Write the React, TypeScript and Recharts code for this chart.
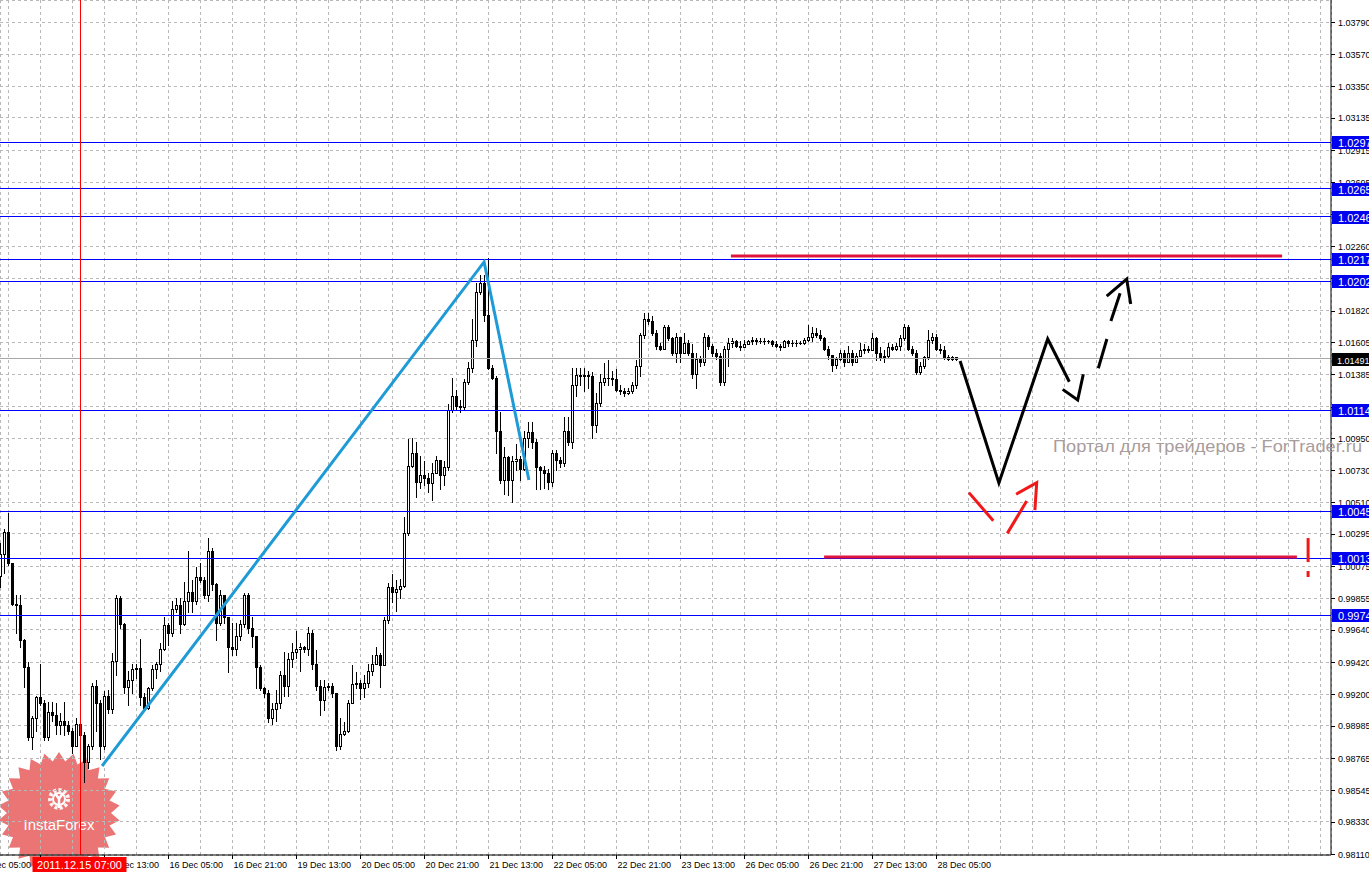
import React from "react";
import { ComposedChart, Bar, Line, XAxis, YAxis, CartesianGrid, ReferenceLine } from "recharts";

// EURUSD-style H1 candles, 14 Dec 11:00 .. 28 Dec 10:00 (open = previous close)
const firstOpen = 1.0001;
const closes = [
  1.0016, 1.0031, 1.001, 0.9982, 0.9981, 0.9957, 0.9939, 0.9891, 0.9904, 0.9918,
  0.9914, 0.9891, 0.9908, 0.9906, 0.9899, 0.9902, 0.9899, 0.9895, 0.9885, 0.99,
  0.9892, 0.9874, 0.9885, 0.9926, 0.9914, 0.9885, 0.9919, 0.991, 0.9943, 0.9986,
  0.9968, 0.9925, 0.993, 0.9937, 0.9938, 0.9918, 0.9911, 0.9924, 0.9937, 0.9941,
  0.9951, 0.9967, 0.9962, 0.9978, 0.9981, 0.9968, 0.9984, 0.999, 0.9984, 1.0,
  0.9998, 0.9988, 1.0018, 0.9995, 0.9969, 0.9988, 0.9973, 0.9952, 0.9951, 0.996,
  0.9968, 0.9988, 0.9965, 0.996, 0.9939, 0.9924, 0.9921, 0.9904, 0.991, 0.9914,
  0.9933, 0.9926, 0.9944, 0.9949, 0.9951, 0.9952, 0.9951, 0.9962, 0.9941, 0.9926,
  0.9916, 0.9925, 0.9926, 0.9921, 0.9885, 0.9893, 0.9895, 0.9914, 0.9927, 0.9928,
  0.9924, 0.9928, 0.9936, 0.9941, 0.9947, 0.994, 0.9971, 0.9993, 0.999, 0.9992,
  0.9994, 1.003, 1.0076, 1.0085, 1.0065, 1.007, 1.0068, 1.0064, 1.0071, 1.008,
  1.007, 1.0075, 1.0114, 1.0124, 1.0117, 1.0116, 1.0133, 1.0143, 1.0162, 1.0195,
  1.0201, 1.0179, 1.0143, 1.0136, 1.01, 1.0066, 1.0082, 1.0066, 1.0079, 1.0081,
  1.0074, 1.0095, 1.0099, 1.0092, 1.0075, 1.0073, 1.0071, 1.0065, 1.0085, 1.008,
  1.0078, 1.01, 1.0092, 1.0131, 1.0138, 1.0137, 1.0138, 1.0137, 1.0104, 1.0119,
  1.0133, 1.0136, 1.0136, 1.0135, 1.0128, 1.0127, 1.0126, 1.0127, 1.0131, 1.0144,
  1.0165, 1.0176, 1.0175, 1.0167, 1.0158, 1.0156, 1.0171, 1.0163, 1.0153, 1.0164,
  1.0153, 1.016, 1.0153, 1.0139, 1.0149, 1.0147, 1.0164, 1.0158, 1.0153, 1.0151,
  1.0133, 1.0156, 1.016, 1.0161, 1.0158, 1.0157, 1.0159, 1.0161, 1.0162, 1.0161,
  1.0161, 1.0161, 1.0161, 1.0159, 1.0158, 1.0157, 1.0161, 1.016, 1.016, 1.016,
  1.016, 1.0162, 1.0164, 1.0167, 1.0165, 1.0163, 1.0156, 1.0152, 1.0145, 1.0149,
  1.0153, 1.0147, 1.0153, 1.0147, 1.0151, 1.0155, 1.0156, 1.0155, 1.0163, 1.0153,
  1.015, 1.0151, 1.0157, 1.0156, 1.0158, 1.0163, 1.0171, 1.0156, 1.0153, 1.014,
  1.0144, 1.015, 1.0162, 1.0164, 1.0156, 1.0155, 1.015, 1.0149, 1.015, 1.01491,
];
const highs = [
  1.0023, 1.0033, 1.0044, 1.001, 0.9988, 0.9988, 0.9958, 0.9942, 0.9905, 0.9919,
  0.9941, 0.9916, 0.9915, 0.9915, 0.9914, 0.9907, 0.9915, 0.9902, 0.9897, 0.9904,
  0.9902, 0.9894, 0.9886, 0.9928, 0.993, 0.9916, 0.9922, 0.9923, 0.9948, 0.9988,
  0.9987, 0.9969, 0.9936, 0.9941, 0.9941, 0.9958, 0.9921, 0.9925, 0.994, 0.9942,
  0.9955, 0.9973, 0.9969, 0.9984, 0.9986, 0.9986, 0.9997, 1.0018, 0.9998, 1.0007,
  1.001, 1.0, 1.0027, 1.002, 0.9996, 0.9991, 0.9988, 0.9969, 0.9969, 0.9969,
  0.9971, 0.9989, 0.9989, 0.9973, 0.996, 0.994, 0.9925, 0.9923, 0.9914, 0.9923,
  0.9936, 0.9949, 0.9948, 0.9955, 0.9963, 0.9955, 0.9953, 0.9966, 0.9964, 0.995,
  0.993, 0.993, 0.9928, 0.9928, 0.9921, 0.9904, 0.9901, 0.9916, 0.994, 0.9935,
  0.993, 0.9933, 0.9941, 0.9947, 0.9952, 0.9948, 0.9973, 0.9996, 1.0002, 0.9998,
  0.9999, 1.0041, 1.0094, 1.0095, 1.0092, 1.0083, 1.0079, 1.0071, 1.0078, 1.0083,
  1.008, 1.0079, 1.0118, 1.0136, 1.0128, 1.0121, 1.0135, 1.0147, 1.0176, 1.0201,
  1.0206, 1.0206, 1.0218, 1.0145, 1.0137, 1.0113, 1.0089, 1.0083, 1.0083, 1.0091,
  1.0083, 1.01, 1.0106, 1.0106, 1.0094, 1.0076, 1.0076, 1.0074, 1.0087, 1.0087,
  1.0082, 1.0109, 1.0109, 1.0143, 1.0143, 1.0143, 1.0143, 1.0141, 1.014, 1.0126,
  1.0139, 1.0146, 1.0148, 1.0141, 1.0142, 1.0131, 1.0129, 1.0129, 1.0133, 1.0148,
  1.0167, 1.018, 1.018, 1.0178, 1.0169, 1.016, 1.0172, 1.0172, 1.0164, 1.0167,
  1.0162, 1.0167, 1.0162, 1.0159, 1.0153, 1.0151, 1.0167, 1.0165, 1.0159, 1.0156,
  1.0153, 1.0158, 1.0163, 1.0163, 1.0162, 1.0161, 1.0162, 1.0162, 1.0164, 1.0163,
  1.0163, 1.0163, 1.0162, 1.0162, 1.0161, 1.0159, 1.0162, 1.0162, 1.0162, 1.0162,
  1.0161, 1.0163, 1.0172, 1.0171, 1.017, 1.0169, 1.0164, 1.0158, 1.0152, 1.015,
  1.0155, 1.0155, 1.0158, 1.0155, 1.0153, 1.016, 1.0159, 1.0158, 1.0167, 1.0164,
  1.0157, 1.0155, 1.016, 1.0159, 1.016, 1.0165, 1.0173, 1.0172, 1.0158, 1.0155,
  1.0147, 1.0151, 1.0169, 1.0167, 1.0166, 1.0159, 1.0158, 1.0152, 1.0151, 1.015,
];
const lows = [
  0.9993, 1.0003, 1.0008, 0.9981, 0.9962, 0.9952, 0.9925, 0.9889, 0.9883, 0.9895,
  0.9913, 0.9889, 0.9889, 0.9902, 0.9893, 0.9893, 0.9892, 0.9893, 0.988, 0.9885,
  0.9891, 0.986, 0.987, 0.9883, 0.9895, 0.9876, 0.9883, 0.9907, 0.9907, 0.9933,
  0.9965, 0.9921, 0.9913, 0.9921, 0.9931, 0.9913, 0.991, 0.991, 0.9923, 0.9931,
  0.9936, 0.995, 0.9954, 0.996, 0.9976, 0.9962, 0.9967, 0.9976, 0.9976, 0.9982,
  0.9997, 0.9986, 0.9984, 0.9991, 0.9957, 0.9967, 0.9969, 0.9935, 0.9947, 0.9947,
  0.9957, 0.9966, 0.9962, 0.9952, 0.9924, 0.9923, 0.9918, 0.9901, 0.99, 0.9902,
  0.9911, 0.9919, 0.9919, 0.9939, 0.9945, 0.9936, 0.9949, 0.9947, 0.9937, 0.9923,
  0.9906, 0.9909, 0.9923, 0.9918, 0.9882, 0.9883, 0.9892, 0.9894, 0.9914, 0.9924,
  0.9917, 0.9918, 0.9925, 0.9933, 0.9941, 0.9925, 0.994, 0.9969, 0.9983, 0.9977,
  0.9986, 0.9993, 1.0029, 1.0075, 1.0055, 1.0061, 1.0063, 1.0058, 1.0053, 1.0073,
  1.006, 1.0063, 1.0073, 1.0113, 1.0114, 1.0113, 1.0114, 1.0132, 1.014, 1.0158,
  1.0193, 1.0175, 1.0142, 1.0135, 1.0085, 1.0064, 1.0057, 1.0056, 1.0051, 1.0073,
  1.0066, 1.0073, 1.0089, 1.0088, 1.006, 1.006, 1.0061, 1.006, 1.0062, 1.0073,
  1.0075, 1.0076, 1.009, 1.0088, 1.0124, 1.0131, 1.0127, 1.0129, 1.0095, 1.0099,
  1.0117, 1.0131, 1.0131, 1.0131, 1.0127, 1.0125, 1.0124, 1.0125, 1.0126, 1.0129,
  1.0137, 1.0163, 1.0173, 1.0165, 1.0156, 1.0155, 1.0156, 1.0162, 1.0152, 1.0147,
  1.0147, 1.0153, 1.0152, 1.0136, 1.0129, 1.0144, 1.0145, 1.0156, 1.0151, 1.0149,
  1.0131, 1.0131, 1.0144, 1.0157, 1.0157, 1.0155, 1.0157, 1.0159, 1.0159, 1.0159,
  1.016, 1.0159, 1.016, 1.0158, 1.0157, 1.0155, 1.0157, 1.0158, 1.0158, 1.0158,
  1.0159, 1.0159, 1.0161, 1.0161, 1.0164, 1.0162, 1.0155, 1.0149, 1.0141, 1.0143,
  1.0148, 1.0144, 1.0147, 1.0145, 1.0147, 1.0151, 1.0153, 1.0154, 1.0156, 1.0148,
  1.0148, 1.0147, 1.015, 1.0155, 1.0155, 1.0155, 1.0162, 1.0155, 1.0152, 1.0139,
  1.0139, 1.0143, 1.0149, 1.016, 1.0155, 1.0153, 1.0149, 1.0148, 1.0148, 1.0148,
];

const labelBars = [-6, 10, 26, 42, 58, 74, 90, 106, 122, 138, 154, 170, 186, 202, 218, 234];
const labelTexts = [
  "14 Dec 05:00", "14 Dec 21:00", "15 Dec 13:00", "16 Dec 05:00", "16 Dec 21:00",
  "19 Dec 13:00", "20 Dec 05:00", "20 Dec 21:00", "21 Dec 13:00", "22 Dec 05:00",
  "22 Dec 21:00", "23 Dec 13:00", "26 Dec 05:00", "26 Dec 21:00", "27 Dec 13:00",
  "28 Dec 05:00",
];
const priceTicks = [
  1.0379, 1.0357, 1.0335, 1.03135, 1.02915, 1.02695, 1.0248, 1.0226, 1.0204,
  1.0182, 1.01605, 1.01385, 1.01165, 1.0095, 1.0073, 1.0051, 1.00295, 1.00075,
  0.99855, 0.9964, 0.9942, 0.992, 0.98985, 0.98765, 0.98545, 0.9833, 0.9811,
];

const levels = [1.0297, 1.0265, 1.0246, 1.0217, 1.0202, 1.0114, 1.0045, 1.0013, 0.9974];
const lastPrice = 1.01491;
const markBar = 20;
const markText = "2011.12.15 07:00";

// hand drawn studies as [bar, price]
const trendPts = [[25.4, 0.98711], [120.9, 1.02152], [132.1, 1.00663]];
const pathMain = [[239.9, 1.01476], [249.6, 1.00643], [261.8, 1.01626], [267.2, 1.01334]];
const headLow = [[265.55, 1.01282], [269.3, 1.01209], [270.7, 1.01385]];
const dash1 = [[274.45, 1.01426], [276.6, 1.01626]];
const dash2 = [[277.6, 1.01749], [279.9, 1.01938]];
const headHigh = [[276.55, 1.01919], [281.55, 1.02035], [282.55, 1.01865]];
const redDown = [[242.1, 1.00577], [248.2, 1.00385]];
const redUp = [[251.7, 1.00299], [256.55, 1.0052]];
const redHead = [[253.9, 1.00566], [259.05, 1.00645], [258.6, 1.00458]];
const resistance = [[182.6, 1.02192], [320.4, 1.02192]];
const support = [[205.9, 1.00138], [324.1, 1.00138]];
const bangBar = [[326.9, 1.00267], [326.9, 1.00103]];
const bangDot = [[326.9, 1.00042], [326.9, 1.00001]];

const candles = closes.map((c, k) => ({
  i: k,
  o: k === 0 ? firstOpen : closes[k - 1],
  h: highs[k],
  l: lows[k],
  c,
  range: [lows[k], highs[k]],
}));

const gridBars: number[] = [-6];
for (let b = 2; b <= 330; b += 8) gridBars.push(b);

const X_DOMAIN = [-0.125, 332.625];
const Y_DOMAIN = [0.981032, 1.039402];
const toPts = (arr: number[][]) => arr.map(([i, p]) => ({ i, p }));
const FONT = "'Liberation Sans', Arial, sans-serif";

function Candle(props: any) {
  const { x, y, width, height, payload } = props;
  if (x == null || payload == null) return null;
  const cx = x + width / 2;
  const top = Math.min(y, y + height);
  const bot = Math.max(y, y + height);
  const span = payload.h - payload.l;
  const py = (v: number) => (span > 0 ? top + ((payload.h - v) / span) * (bot - top) : top);
  const yo = Math.round(py(payload.o));
  const yc = Math.round(py(payload.c));
  const bTop = Math.min(yo, yc);
  const bBot = Math.max(yo, yc);
  const wTop = Math.min(Math.round(top), bTop);
  const wBot = Math.max(Math.round(bot), bBot);
  const bull = payload.c > payload.o;
  return (
    <g>
      <line x1={cx} x2={cx} y1={wTop} y2={wBot + 1} stroke="#000" strokeWidth={1} />
      {bBot - bTop < 1 ? (
        <rect x={cx - 1.5} y={bTop} width={3} height={1} fill="#000" />
      ) : bull ? (
        <rect x={cx - 1} y={bTop + 0.5} width={2} height={bBot - bTop} fill="#fff" stroke="#000" strokeWidth={1} />
      ) : (
        <rect x={cx - 1.5} y={bTop} width={3} height={bBot - bTop + 1} fill="#000" />
      )}
    </g>
  );
}

function XTick(props: any) {
  const { x, y, payload } = props;
  const k = labelBars.indexOf(payload.value);
  if (k < 0) return null;
  const px = Math.floor(x) + 0.5;
  return (
    <g>
      <line x1={px} x2={px} y1={y} y2={y + 4} stroke="#000" />
      <text x={px + 1} y={y + 13} fontSize={9} fontFamily={FONT} fill="#000">
        {labelTexts[k]}
      </text>
    </g>
  );
}

function YTick(props: any) {
  const { x, y, payload } = props;
  return (
    <g>
      <line x1={x} x2={x + 4} y1={Math.round(y) + 0.5} y2={Math.round(y) + 0.5} stroke="#000" />
      <text x={x + 7} y={y + 3.5} fontSize={9} fontFamily={FONT} fill="#000">
        {payload.value.toFixed(5)}
      </text>
    </g>
  );
}

// price tags drawn by an extra 1px wide right axis so they sit above the tick labels
function TagTick(props: any) {
  const { x, y, payload } = props;
  const isLast = payload.value === lastPrice;
  const left = x - 36;
  const cy = Math.round(y);
  return (
    <g>
      <rect x={left} y={cy - 6} width={40} height={13} fill={isLast ? "#000" : "#0000f0"} />
      <text
        x={left + (isLast ? 5 : 6)}
        y={cy + (isLast ? 4.5 : 5)}
        fontSize={isLast ? 9 : 11}
        fontFamily={FONT}
        fill="#fff"
      >
        {payload.value.toFixed(5)}
      </text>
    </g>
  );
}

// date tag of the red vertical marker, drawn by an extra 1px high bottom axis
function DateTick(props: any) {
  const { x, y } = props;
  return (
    <g>
      <rect x={x - 48} y={y - 14} width={94} height={16} fill="#ff0000" />
      <text x={x - 1} y={y - 2} fontSize={11} fontFamily={FONT} fill="#fff" textAnchor="middle">
        {markText}
      </text>
    </g>
  );
}

function Logo() {
  const cx = 59;
  const cy = 813;
  const n = 26;
  const pts: string[] = [];
  for (let k = 0; k < n * 2; k++) {
    const r = k % 2 === 0 ? 61 : 52;
    const a = (Math.PI * k) / n - Math.PI / 2;
    pts.push(`${(cx + r * Math.cos(a)).toFixed(1)},${(cy + r * Math.sin(a)).toFixed(1)}`);
  }
  return (
    <svg width={1369} height={872} style={{ position: "absolute", left: 0, top: 0 }}>
      <polygon points={pts.join(" ")} fill="#e33a3a" opacity={0.7} />
      <circle cx={cx} cy={799} r={9} fill="none" stroke="#fff" strokeWidth={4} strokeDasharray="3 2.2" opacity={0.9} />
      <circle cx={cx} cy={799} r={6} fill="none" stroke="#fff" strokeWidth={2} />
      <path d={`M${cx - 4} 793 L${cx} 799 L${cx + 4} 793 M${cx} 799 L${cx} 808`} stroke="#fff" strokeWidth={2.5} fill="none" />
      <text x={cx} y={830} textAnchor="middle" fontSize={15} fontFamily={FONT} fill="#fff">
        InstaForex
      </text>
    </svg>
  );
}

export default function App() {
  const seg = (arr: number[][], color: string) => (
    <Line
      data={toPts(arr)}
      dataKey="p"
      type="linear"
      stroke={color}
      strokeWidth={3}
      dot={false}
      activeDot={false}
      isAnimationActive={false}
    />
  );
  return (
    <div style={{ position: "absolute", left: 0, top: 0, width: 1369, height: 872, background: "#fff", overflow: "hidden" }}>
      <Logo />
      <div style={{ position: "absolute", left: 0, top: 0 }}>
        <ComposedChart width={1369} height={872} data={candles} margin={{ top: 0, right: 0, bottom: 0, left: 0 }}>
          <CartesianGrid stroke="#b8b8b8" strokeDasharray="3 3" shapeRendering="crispEdges" />
          <XAxis
            type="number"
            dataKey="i"
            domain={X_DOMAIN}
            allowDataOverflow
            ticks={gridBars}
            interval={0}
            height={16}
            tickSize={0}
            tickMargin={0}
            tickLine={false}
            tick={<XTick />}
            axisLine={{ stroke: "#000" }}
          />
          <XAxis
            xAxisId="mark"
            type="number"
            dataKey="i"
            domain={X_DOMAIN}
            allowDataOverflow
            ticks={[markBar]}
            interval={0}
            height={1}
            tickSize={0}
            tickMargin={0}
            tickLine={false}
            axisLine={false}
            tick={<DateTick />}
          />
          <YAxis
            orientation="right"
            type="number"
            domain={Y_DOMAIN}
            allowDataOverflow
            ticks={priceTicks}
            interval={0}
            width={37}
            tickSize={0}
            tickMargin={0}
            tickLine={false}
            tick={<YTick />}
            axisLine={{ stroke: "#000" }}
          />
          <YAxis
            yAxisId="tags"
            orientation="right"
            type="number"
            domain={Y_DOMAIN}
            allowDataOverflow
            ticks={[...levels, lastPrice]}
            interval={0}
            width={1}
            tickSize={0}
            tickMargin={0}
            tickLine={false}
            axisLine={false}
            tick={<TagTick />}
          />
          {levels.map((v) => (
            <ReferenceLine key={v} y={v} stroke="#0000ff" shapeRendering="crispEdges" />
          ))}
          <ReferenceLine y={lastPrice} stroke="#a8a8a8" shapeRendering="crispEdges" />
          <ReferenceLine x={markBar} stroke="#ff0000" shapeRendering="crispEdges" />
          <Bar dataKey="range" barSize={3} shape={<Candle />} isAnimationActive={false} />
          {seg(trendPts, "#1e9bd7")}
          {seg(pathMain, "#000")}
          {seg(headLow, "#000")}
          {seg(dash1, "#000")}
          {seg(dash2, "#000")}
          {seg(headHigh, "#000")}
          {seg(redDown, "#f01818")}
          {seg(redUp, "#f01818")}
          {seg(redHead, "#f01818")}
          {seg(resistance, "#e0143c")}
          {seg(support, "#e0143c")}
          {seg(bangBar, "#f01818")}
          {seg(bangDot, "#f01818")}
        </ComposedChart>
      </div>
      <svg width={1369} height={872} style={{ position: "absolute", left: 0, top: 0, pointerEvents: "none" }}>
        <text x={1053} y={452} fontSize={17} fontFamily={FONT} fill="#a89c9c" textLength={309} lengthAdjust="spacingAndGlyphs">
          Портал для трейдеров - ForTrader.ru
        </text>
      </svg>
    </div>
  );
}
